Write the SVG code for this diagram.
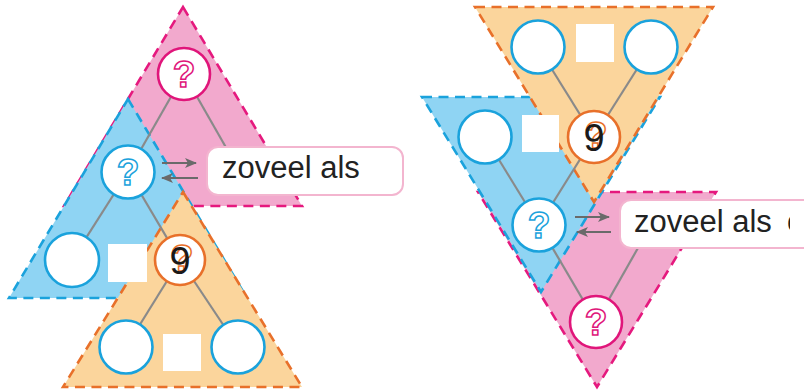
<svg xmlns="http://www.w3.org/2000/svg" width="804" height="390" viewBox="0 0 804 390">
<defs>
<style>
.tri{stroke-width:2.6;stroke-dasharray:10 6.5;stroke-linejoin:miter}
.pinkT{fill:#f2a9cd;stroke:#e5197e}
.blueT{fill:#8fd4f3;stroke:#1aa2dc}
.orT{fill:#fbd59c;stroke:#e8702a}
.ln{stroke:#8a8a8a;stroke-width:2.2;fill:none}
.c{fill:#fff;stroke-width:2.6}
.cb{stroke:#1aa2dc}
.cp{stroke:#e0157a}
.co{stroke:#e8702a}
.sq{fill:#fff}
.q{font-family:"Liberation Sans",Arial,sans-serif;font-size:37px;fill:#fff;stroke-width:1.5;text-anchor:middle;font-weight:bold}
.nine{font-family:"Liberation Sans",Arial,sans-serif;font-size:38px;fill:#1a1a1a;text-anchor:middle}
.lbl{fill:#fff;stroke:#f3b5cf;stroke-width:2}
.lt{font-family:"Liberation Sans",Arial,sans-serif;font-size:31px;fill:#222}
.ar{stroke:#6a6a6a;stroke-width:2;fill:none}
</style>
<marker id="ah" viewBox="0 0 12 10" refX="11" refY="5" markerWidth="12" markerHeight="10" markerUnits="userSpaceOnUse" orient="auto">
<path d="M0,0 L12,5 L0,10 L3,5 z" fill="#6a6a6a"/>
</marker>
<clipPath id="clipR"><rect x="770" y="195" width="20" height="60"/></clipPath>
</defs>

<!-- triangles left -->
<g id="tri-left-pink"><polygon class="tri pinkT" points="183,7 302,206 64,206"/></g>
<g id="tri-left-blue"><polygon class="tri blueT" points="128,99 247,298 9,298"/></g>
<g id="tri-left-orange"><polygon class="tri orT" points="183,192 302,387 63,387"/></g>

<!-- triangles right -->
<g id="tri-right-pink"><polygon class="tri pinkT" points="478,192 716,192 597,387"/></g>
<g id="tri-right-blue"><polygon class="tri blueT" points="422,97 660,97 541,292"/></g>
<g id="tri-right-orange"><polygon class="tri orT" points="475,7 713,7 594,202"/></g>

<!-- connectors -->
<g id="connectors">
<line class="ln" x1="184" y1="74" x2="128" y2="172"/>
<line class="ln" x1="184" y1="74" x2="240" y2="172"/>
<line class="ln" x1="128" y1="172" x2="72" y2="260"/>
<line class="ln" x1="128" y1="172" x2="180" y2="260"/>
<line class="ln" x1="180" y1="260" x2="126" y2="347"/>
<line class="ln" x1="180" y1="260" x2="238" y2="347"/>
<line class="ln" x1="538" y1="47" x2="594" y2="137"/>
<line class="ln" x1="651" y1="47" x2="594" y2="137"/>
<line class="ln" x1="485" y1="137" x2="539" y2="225"/>
<line class="ln" x1="594" y1="137" x2="539" y2="225"/>
<line class="ln" x1="539" y1="225" x2="596" y2="322"/>
<line class="ln" x1="651" y1="225" x2="596" y2="322"/>
<line class="ar" x1="162" y1="163" x2="196" y2="163" marker-end="url(#ah)"/>
<line class="ar" x1="198" y1="178" x2="162" y2="178" marker-end="url(#ah)"/>
<line class="ar" x1="575" y1="217" x2="609" y2="217" marker-end="url(#ah)"/>
<line class="ar" x1="611" y1="232" x2="577" y2="232" marker-end="url(#ah)"/>
</g>

<!-- left nodes -->
<g id="l-top-q"><circle class="c cp" cx="184" cy="74" r="26"/><text class="q" x="184" y="87" stroke="#e0157a">?</text></g>
<g id="l-mid-q"><circle class="c cb" cx="128" cy="172" r="26.5"/><text class="q" x="128" y="185" stroke="#1aa2dc">?</text></g>
<g id="l-blue-left"><circle class="c cb" cx="72" cy="260" r="27"/></g>
<g id="l-blue-square"><rect class="sq" x="108" y="244" width="39" height="38"/></g>
<g id="l-nine"><circle class="c co" cx="180" cy="260" r="25"/><text class="q" x="182" y="271" font-size="28" stroke="#e8702a">?</text><text class="nine" x="180" y="274">9</text></g>
<g id="l-or-left"><circle class="c cb" cx="126" cy="347" r="26.5"/></g>
<g id="l-or-square"><rect class="sq" x="163" y="334" width="38" height="37"/></g>
<g id="l-or-right"><circle class="c cb" cx="238" cy="347" r="26.5"/></g>
<g id="l-label"><rect class="lbl" x="207" y="147" width="196" height="48" rx="11"/><text class="lt" x="222" y="178">zoveel als</text></g>

<!-- right nodes -->
<g id="r-or-left"><circle class="c cb" cx="538" cy="47" r="26.5"/></g>
<g id="r-or-square"><rect class="sq" x="576" y="24" width="38" height="38"/></g>
<g id="r-or-right"><circle class="c cb" cx="651" cy="47" r="26.5"/></g>
<g id="r-blue-left"><circle class="c cb" cx="485" cy="137" r="26.5"/></g>
<g id="r-blue-square"><rect class="sq" x="522" y="115" width="37" height="37"/></g>
<g id="r-nine"><circle class="c co" cx="594" cy="137" r="26"/><text class="q" x="596" y="148" font-size="28" stroke="#e8702a">?</text><text class="nine" x="594" y="151">9</text></g>
<g id="r-mid-q"><circle class="c cb" cx="539" cy="225" r="26.5"/><text class="q" x="539" y="238" stroke="#1aa2dc">?</text></g>
<g id="r-bot-q"><circle class="c cp" cx="596" cy="322" r="26"/><text class="q" x="596" y="335" stroke="#e0157a">?</text></g>
<g id="r-label"><rect class="lbl" x="620" y="200" width="200" height="48" rx="11"/><text class="lt" x="634" y="232">zoveel als</text><text class="lt" x="787" y="232" clip-path="url(#clipR)">o</text></g>
</svg>
